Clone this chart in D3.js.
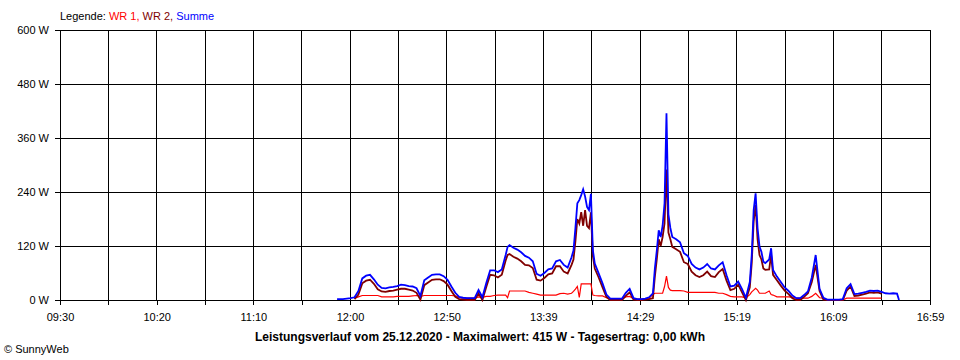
<!DOCTYPE html>
<html><head><meta charset="utf-8">
<script src="https://cdn.jsdelivr.net/npm/d3@7/dist/d3.min.js"></script>
<style>
html,body{margin:0;padding:0;background:#fff;}
svg{display:block;font-family:"Liberation Sans",Arial,sans-serif;}
</style></head>
<body>
<svg id="chart" width="960" height="360"></svg>
<script>
// ---- data ----
const times = ["11:53","11:56","11:58","12:00","12:02","12:04","12:06","12:08","12:10","12:12","12:14","12:16","12:18","12:20","12:22","12:24","12:26","12:28","12:30","12:32","12:34","12:36","12:38","12:40","12:42","12:44","12:46","12:48","12:50","12:52","12:54","12:56","12:58","13:00","13:02","13:04","13:06","13:08","13:10","13:12","13:14","13:16","13:18","13:20","13:21","13:22","13:24","13:26","13:28","13:30","13:32","13:34","13:36","13:38","13:40","13:42","13:44","13:46","13:48","13:50","13:52","13:54","13:55","13:56","13:57","13:58","13:59","14:00","14:01","14:02","14:03","14:04","14:05","14:06","14:08","14:10","14:12","14:14","14:16","14:18","14:20","14:22","14:24","14:26","14:28","14:30","14:32","14:34","14:36","14:37","14:38","14:39","14:40","14:41","14:42","14:43","14:44","14:45","14:46","14:48","14:50","14:52","14:54","14:56","14:58","15:00","15:02","15:04","15:06","15:08","15:10","15:12","15:14","15:16","15:18","15:20","15:22","15:24","15:26","15:27","15:28","15:29","15:30","15:31","15:32","15:33","15:34","15:36","15:37","15:38","15:40","15:42","15:44","15:46","15:48","15:50","15:52","15:54","15:56","15:58","16:00","16:02","16:04","16:06","16:08","16:10","16:12","16:14","16:16","16:18","16:20","16:22","16:24","16:26","16:28","16:30","16:32","16:34","16:36","16:38","16:40","16:42","16:43"];
const wr1 = [null,null,null,null,4,7,10,10,10,10,10,7,7,7,7,8,8,8,8,9,10,8,10,10,10,10,10,10,10,10,9,6,4,4,4,4,7,6,8,8,10,11,11,11,5,20,20,20,20,20,17,15,13,11,11,11,11,11,14,15,13,15,19,24,30,6,36,36,36,36,36,36,11,10,9,9,5,3,3,3,3,7,8,3,2,2,2,4,12,15,15,15,15,15,30,53,28,22,21,21,21,20,17,17,17,17,17,17,17,17,15,15,12,8,7,7,7,5,12,18,22,26,22,15,15,15,15,20,12,11,7,7,7,7,6,4,4,4,4,8,15,5,4,0,0,0,0,0,4,4,4,4,4,4,4,4,4,4,null,null,null,null,null];
const wr2 = [null,null,null,null,2,12,37,43,45,36,24,19,18,20,21,23,25,25,23,21,16,1,33,39,45,46,46,42,34,20,7,2,1,0,0,0,15,0,29,56,55,50,56,88,100,102,96,92,86,78,77,71,45,43,49,57,59,75,75,63,59,78,90,130,180,170,195,165,200,165,160,195,98,70,50,28,7,0,0,0,0,9,17,1,0,0,1,2,4,52,90,135,120,140,170,290,150,135,118,113,107,84,80,63,55,51,55,63,53,51,62,69,43,22,25,34,17,0,28,82,175,211,135,100,90,70,67,68,100,56,44,32,21,13,4,0,0,7,15,40,78,20,1,0,0,0,0,0,21,30,9,10,12,14,17,16,17,14,null,null,null,null,null];
const summe = [2,2,3,4,6,20,48,54,56,46,34,27,26,28,29,31,34,33,31,30,26,9,44,50,56,57,57,53,45,30,16,7,5,4,4,4,22,6,38,66,66,62,68,100,118,122,116,112,106,98,94,86,58,54,60,68,70,86,89,78,72,95,110,160,215,222,233,246,230,207,200,236,111,81,59,37,12,3,3,3,3,16,25,4,2,2,3,6,15,70,110,155,140,165,215,415,190,160,140,135,128,104,98,80,72,68,72,80,70,68,77,84,55,30,32,41,24,5,40,100,200,237,160,119,107,85,82,90,115,67,52,40,28,20,10,4,4,11,19,50,100,25,5,1,1,1,1,2,26,35,13,14,16,18,21,20,21,18,15,14,15,14,0];
const yTicks = [0, 120, 240, 360, 480, 600];
const xTickLabels = ["09:30","10:20","11:10","12:00","12:50","13:39","14:29","15:19","16:09","16:59"];
const legendItems = [["WR 1,", "#ff0000"], ["WR 2,", "#800000"], ["Summe", "#0000ff"]];
const title = "Leistungsverlauf vom 25.12.2020 - Maximalwert: 415 W - Tagesertrag: 0,00 kWh";

// ---- chart ----
const toMin = s => { const [h, m] = s.split(":").map(Number); return h * 60 + m; };
const tStart = toMin(xTickLabels[0]), tEnd = toMin(xTickLabels[xTickLabels.length - 1]);
const L = 60, R = 930, T = 30, B = 300;
const x = d3.scaleLinear().domain([tStart, tEnd]).range([L, R]);
const y = d3.scaleLinear().domain([0, 600]).range([B, T]);
const svg = d3.select("#chart");

const nGrid = (xTickLabels.length - 1) * 2;
const gridT = d3.range(nGrid + 1).map(i => tStart + i * (tEnd - tStart) / nGrid);

const grid = svg.append("g").attr("shape-rendering", "crispEdges").attr("stroke", "#000").attr("stroke-width", 1);
grid.selectAll("line.v").data(gridT).join("line")
  .attr("x1", d => x(d)).attr("x2", d => x(d)).attr("y1", T).attr("y2", B);
grid.selectAll("line.h").data(yTicks).join("line")
  .attr("x1", L).attr("x2", R).attr("y1", d => y(d)).attr("y2", d => y(d));

const xAxis = d3.axisBottom(x).tickValues(gridT).tickSize(5).tickPadding(8)
  .tickFormat((d, i) => i % 2 === 0 ? xTickLabels[i / 2] : "");
const gx = svg.append("g").attr("transform", `translate(0,${B})`).call(xAxis);
const yAxis = d3.axisLeft(y).tickValues(yTicks).tickSize(5).tickPadding(6).tickFormat(d => d + " W");
const gy = svg.append("g").attr("transform", `translate(${L},0)`).call(yAxis);
[gx, gy].forEach(g => {
  g.select(".domain").remove();
  g.selectAll("line").attr("stroke", "#000").attr("shape-rendering", "crispEdges");
  g.selectAll("text").attr("fill", "#000").style("font-size", "11px").style("font-family", '"Liberation Sans",Arial,sans-serif');
});

const rows = times.map((t, i) => ({ t: toMin(t), a: wr1[i], b: wr2[i], s: summe[i] }));
const mk = key => d3.line().defined(d => d[key] != null).x(d => x(d.t)).y(d => y(d[key]));
[["a", "#ff0000", 1.2], ["b", "#800000", 1.8], ["s", "#0000ff", 1.8]].forEach(([k, c, w]) => {
  svg.append("path").datum(rows).attr("fill", "none").attr("stroke", c).attr("stroke-width", w)
    .attr("stroke-linejoin", "miter").attr("d", mk(k));
});

// legend
const lg = svg.append("text").attr("x", L).attr("y", 20).style("font-size", "11px");
lg.append("tspan").attr("fill", "#000").text("Legende: ");
legendItems.forEach(([t, c], i) => lg.append("tspan").attr("fill", c).text(t + (i < legendItems.length - 1 ? " " : "")));

svg.append("text").attr("x", 480).attr("y", 341).attr("text-anchor", "middle")
  .style("font-size", "12px").style("font-weight", "bold").attr("fill", "#000").text(title);
svg.append("text").attr("x", 4).attr("y", 353).style("font-size", "11px").attr("fill", "#000").text("© SunnyWeb");
</script>
</body></html>
